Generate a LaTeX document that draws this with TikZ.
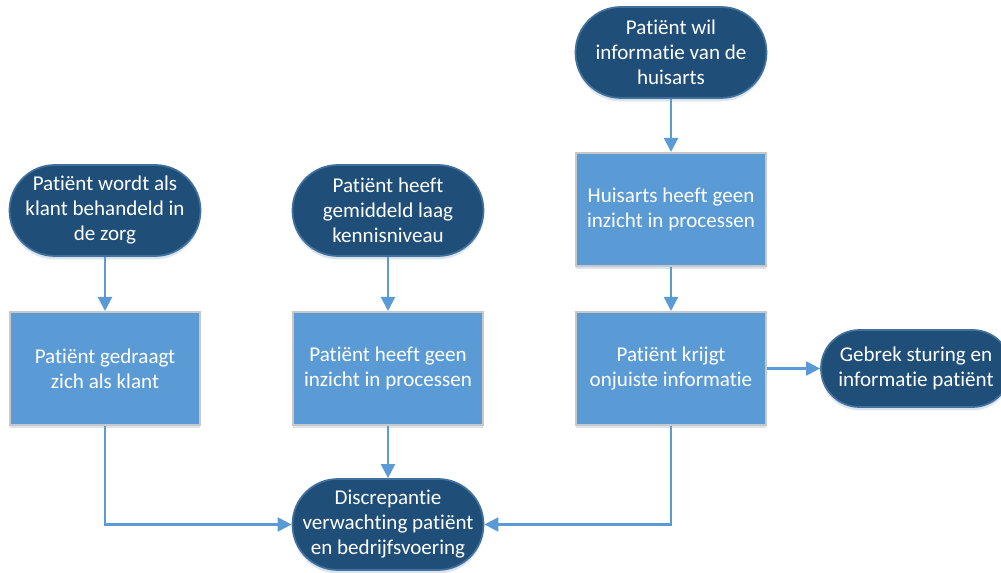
\documentclass[tikz,border=0pt]{standalone}
\usepackage{fontspec}
\setmainfont[Ligatures={NoCommon}]{Carlito}
\usetikzlibrary{arrows.meta,shadows}
\definecolor{termfill}{RGB}{31,78,121}
\definecolor{termedge}{RGB}{65,113,156}
\definecolor{procfill}{RGB}{91,155,213}
\definecolor{procedge}{RGB}{200,200,200}
\definecolor{flow}{RGB}{91,155,213}
\definecolor{shade}{RGB}{150,175,205}
\tikzset{
  basebox/.style={align=center, text=white, inner sep=2pt,
    font=\fontsize{15.8}{18.75}\selectfont,
    drop shadow={shadow xshift=0pt, shadow yshift=-2.5pt, fill=shade, opacity=0.35}},
  terminal/.style={basebox, fill=termfill, draw=termedge, line width=1.3pt,
    minimum width=143.25pt, minimum height=68.25pt, rounded corners=34pt},
  smallterminal/.style={terminal, minimum width=142.5pt, minimum height=57.75pt,
    rounded corners=28.8pt},
  process/.style={basebox, fill=procfill, draw=procedge, line width=1.5pt,
    minimum width=142.5pt, minimum height=84.75pt},
  flowline/.style={draw=flow, line width=1.6pt,
    -{Triangle[length=10.5pt, width=10.5pt]}}
}
\begin{document}
\begin{tikzpicture}[x=0.75pt, y=-0.75pt]
  \useasboundingbox (0,0) rectangle (1001,573);

  % left column
  \node[terminal] (klant) at (105,210.5) {Patiënt wordt als\\klant behandeld in\\de zorg};
  \node[process] (gedraagt) at (105,368.5) {Patiënt gedraagt\\zich als klant};

  % middle column
  \node[terminal] (kennis) at (388,210.5) {Patiënt heeft\\gemiddeld laag\\kennisniveau};
  \node[process] (inzicht) at (388,368.5) {Patiënt heeft geen\\inzicht in processen};
  \node[terminal] (discrepantie) at (388,524.5) {Discrepantie\\verwachting patiënt\\en bedrijfsvoering};

  % right column
  \node[terminal] (wil) at (671,52.5) {Patiënt wil\\informatie van de\\huisarts};
  \node[process] (huisarts) at (671,209.5) {Huisarts heeft geen\\inzicht in processen};
  \node[process] (onjuist) at (671,368.5) {Patiënt krijgt\\onjuiste informatie};
  \node[smallterminal] (gebrek) at (916,368.5) {Gebrek sturing en\\informatie patiënt};

  % connectors
  \draw[flowline] (klant) -- (gedraagt);
  \draw[flowline] (kennis) -- (inzicht);
  \draw[flowline] (inzicht) -- (discrepantie);
  \draw[flowline] (wil) -- (huisarts);
  \draw[flowline] (huisarts) -- (onjuist);
  \draw[flowline] (onjuist) -- (gebrek);
  \draw[flowline] (gedraagt.south) |- (discrepantie.west);
  \draw[flowline] (onjuist.south) |- (discrepantie.east);
\end{tikzpicture}
\end{document}
